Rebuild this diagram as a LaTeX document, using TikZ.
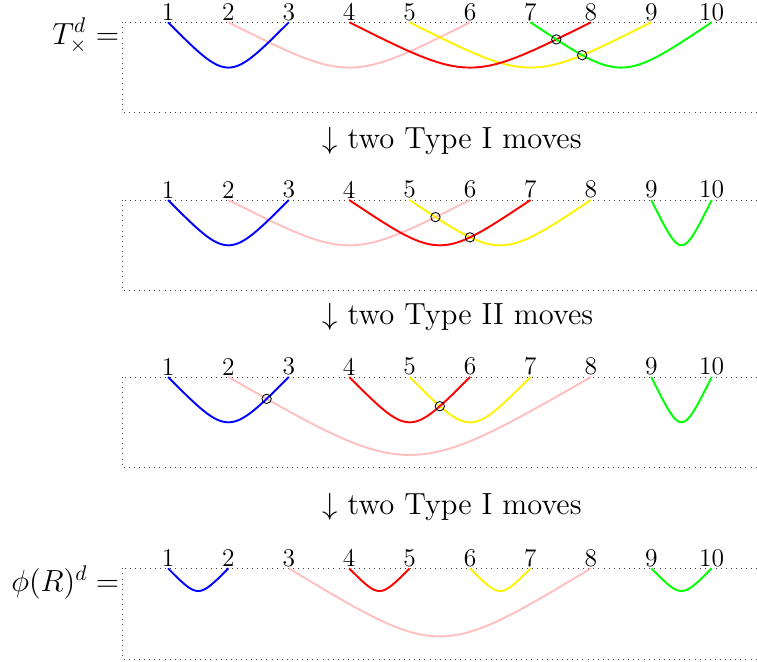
\documentclass[tikz,border=0pt]{standalone}
\usetikzlibrary{calc,intersections}
\tikzset{
  frame/.style={dotted, black!75, line width=0.4pt},
  num/.style={anchor=south, inner sep=0.5pt, font=\large},
  curve/.style={line width=0.9pt},
  xmark/.style={circle, draw=black, line width=0.4pt, inner sep=0pt, minimum size=4.4pt},
  movetxt/.style={anchor=base west, inner sep=0pt, font=\Large},
  lhs/.style={anchor=base east, inner sep=0pt, font=\Large},
}
\newcommand{\karc}[5]{\draw[curve,#1,name path=#2#3#4] (#2#3) .. controls ($(#2#3)!0.5!(#2#4)+(0,-#5)$) .. (#2#4);}
\newcommand{\kcross}[3]{\path[name intersections={of=#1 and #2, by=i#3}]; \node[xmark] (x#3) at (i#3) {};}
\begin{document}
\begin{tikzpicture}
\useasboundingbox (-1.781,0.369) rectangle (10.75,-10.575);
\foreach \r/\y in {A/0,B/-2.942,C/-5.872,D/-9.04} {
  \draw[frame] (0.25,\y) rectangle (10.75,{\y-1.5});
  \foreach \i in {1,...,10} {
    \coordinate (\r\i) at (\i,\y);
    \node[num] (\r n\i) at (\r\i) {\i};
  }
}
% row A
\karc{pink}{A}{2}{6}{1}
\karc{blue}{A}{1}{3}{1}
\karc{yellow}{A}{5}{9}{1}
\karc{red}{A}{4}{8}{1}
\karc{green}{A}{7}{10}{1}
\kcross{A48}{A710}{a1}
\kcross{A59}{A710}{a2}
% row B
\karc{pink}{B}{2}{6}{1}
\karc{blue}{B}{1}{3}{1}
\karc{yellow}{B}{5}{8}{1}
\karc{red}{B}{4}{7}{1}
\karc{green}{B}{9}{10}{1}
\kcross{B26}{B58}{b1}
\kcross{B47}{B58}{b2}
% row C
\karc{pink}{C}{2}{8}{1.72}
\karc{blue}{C}{1}{3}{1}
\karc{yellow}{C}{5}{7}{1}
\karc{red}{C}{4}{6}{1}
\karc{green}{C}{9}{10}{1}
\kcross{C13}{C28}{c1}
\kcross{C46}{C57}{c2}
% row D
\karc{pink}{D}{3}{8}{1.5}
\karc{blue}{D}{1}{2}{0.5}
\karc{red}{D}{4}{5}{0.5}
\karc{yellow}{D}{6}{7}{0.5}
\karc{green}{D}{9}{10}{0.5}
% texts
\node[movetxt] (m1) at (3.55,-2.085) {$\downarrow$ two Type I moves};
\node[movetxt] (m2) at (3.55,-5.005) {$\downarrow$ two Type II moves};
\node[movetxt] (m3) at (3.55,-8.146) {$\downarrow$ two Type I moves};
\node[lhs] (lt) at (0.2,-0.36) {$T^d_\times=$};
\node[lhs] (lp) at (0.2,-9.43) {$\phi(R)^d=$};
\end{tikzpicture}
\end{document}
